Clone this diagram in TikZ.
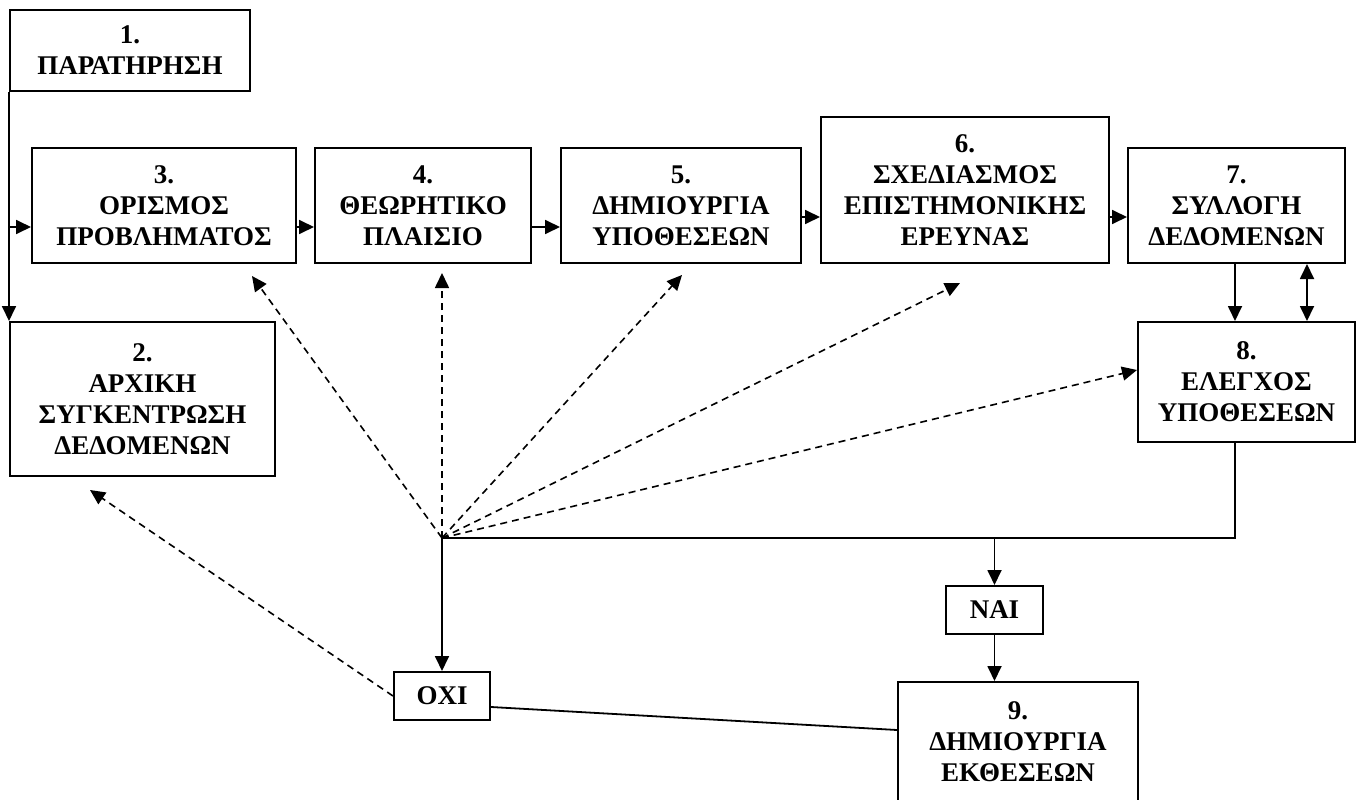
\documentclass[tikz,border=0pt]{standalone}
\usepackage{fontspec}
\setmainfont{Liberation Serif}
\usetikzlibrary{arrows.meta}

\tikzset{
  box/.style={draw, line width=2pt, inner sep=0pt, align=center,
              font=\fontsize{27}{31}\selectfont\bfseries},
  link/.style={line width=1.8pt},
  arr/.style={link, -{Triangle[length=15pt,width=14pt]}},
  darr/.style={link, {Triangle[length=15pt,width=14pt]}-{Triangle[length=15pt,width=14pt]}},
  feedback/.style={line width=1.6pt, dash pattern=on 7pt off 5pt,
               -{Triangle[length=15pt,width=14pt]}},
}

\begin{document}
\begin{tikzpicture}[x=1pt, y=-1pt]
\useasboundingbox (0,0) rectangle (1358,800);
\fill[white] (0,0) rectangle (1358,800);

% process boxes
\node[box, minimum width=240pt, minimum height=81pt]  (n1) at (130,50.5)   {1.\\ΠΑΡΑΤΗΡΗΣΗ};
\node[box, minimum width=265pt, minimum height=154pt] (n2) at (142.5,399)  {2.\\ΑΡΧΙΚΗ\\ΣΥΓΚΕΝΤΡΩΣΗ\\ΔΕΔΟΜΕΝΩΝ};
\node[box, minimum width=264pt, minimum height=115pt] (n3) at (164,205.5)  {3.\\ΟΡΙΣΜΟΣ\\ΠΡΟΒΛΗΜΑΤΟΣ};
\node[box, minimum width=216pt, minimum height=115pt] (n4) at (423,205.5)  {4.\\ΘΕΩΡΗΤΙΚΟ\\ΠΛΑΙΣΙΟ};
\node[box, minimum width=240pt, minimum height=115pt] (n5) at (681,205.5)  {5.\\ΔΗΜΙΟΥΡΓΙΑ\\ΥΠΟΘΕΣΕΩΝ};
\node[box, minimum width=288pt, minimum height=146pt] (n6) at (965,190)    {6.\\ΣΧΕΔΙΑΣΜΟΣ\\ΕΠΙΣΤΗΜΟΝΙΚΗΣ\\ΕΡΕΥΝΑΣ};
\node[box, minimum width=217pt, minimum height=115pt] (n7) at (1236.5,205.5) {7.\\ΣΥΛΛΟΓΗ\\ΔΕΔΟΜΕΝΩΝ};
\node[box, minimum width=217pt, minimum height=120pt] (n8) at (1246.5,382) {8.\\ΕΛΕΓΧΟΣ\\ΥΠΟΘΕΣΕΩΝ};
\node[box, minimum width=240pt, minimum height=119pt] (n9) at (1018,741.5) {9.\\ΔΗΜΙΟΥΡΓΙΑ\\ΕΚΘΕΣΕΩΝ};
\node[box, minimum width=97pt,  minimum height=48pt]  (nai) at (994.5,610) {ΝΑΙ};
\node[box, minimum width=96pt,  minimum height=48pt]  (oxi) at (442,696)   {ΟΧΙ};

% helper coordinates
\coordinate (r1) at (0,227);
\coordinate (r2) at (0,217);
\coordinate (c8) at (1235,0);
\coordinate (d8) at (1307,0);
\coordinate (hub) at (442,538);
\coordinate (t2) at (90,490);
\coordinate (t3) at (252,276);
\coordinate (t4) at (442,273);
\coordinate (t5) at (682,275);
\coordinate (t6) at (960,283);

% main flow
\draw[arr] (n1.south west) -- (n2.north west);
\draw[arr] (n1.south west |- r1) -- (n3.west |- r1);
\draw[arr] (n3.east |- r1) -- (n4.west |- r1);
\draw[arr] (n4.east |- r1) -- (n5.west |- r1);
\draw[arr] (n5.east |- r2) -- (n6.west |- r2);
\draw[arr] (n6.east |- r2) -- (n7.west |- r2);
\draw[arr] (n7.south -| c8) -- (n8.north -| c8);
\draw[darr] (n7.south -| d8) -- (n8.north -| d8);

% decision
\draw[link] (n8.south -| c8) |- (hub);
\draw[arr] (hub) -- (oxi.north);
\draw[arr] (nai.north |- hub) -- (nai.north);
\draw[arr] (nai.south) -- (nai.south |- n9.north);
\draw[link] ([yshift=-11pt]oxi.east) -- ([yshift=11.5pt]n9.west);

% feedback paths
\draw[feedback] (oxi.west) -- (t2);
\draw[feedback] (hub) -- (t3);
\draw[feedback] (hub) -- (t4);
\draw[feedback] (hub) -- (t5);
\draw[feedback] (hub) -- (t6);
\draw[feedback] (hub) -- ([yshift=12pt]n8.west);
\end{tikzpicture}
\end{document}
